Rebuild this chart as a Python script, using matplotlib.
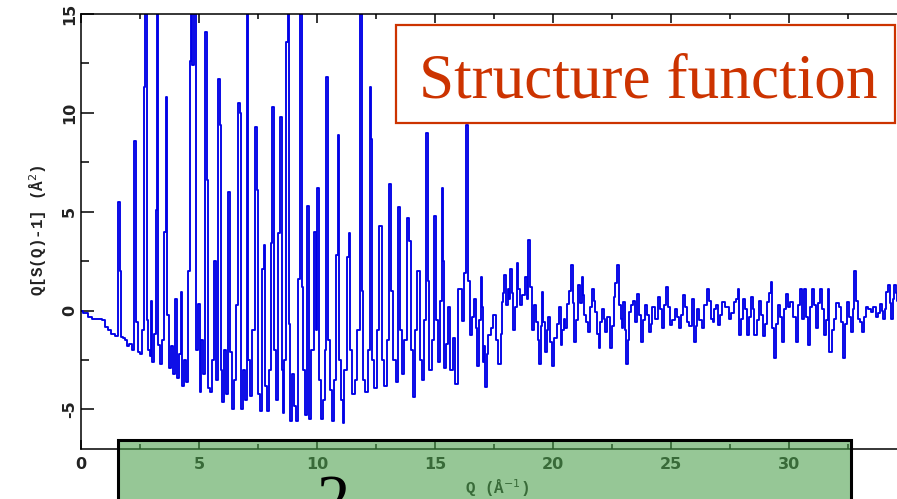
import numpy as np
import matplotlib
matplotlib.use("Agg")
from matplotlib import pyplot as plt
from matplotlib.patches import Rectangle
from matplotlib.ticker import MultipleLocator, FixedLocator

plt.rcParams['axes.unicode_minus'] = False

# Q (1/A) and Q[S(Q)-1], Bragg part
q_bragg = [0.0, 0.2, 0.4, 0.55, 0.8, 0.95, 1.05, 1.2, 1.35, 1.5, 1.62, 1.66, 1.72, 1.8, 1.9,
           2.0, 2.1, 2.2, 2.33, 2.37, 2.45, 2.55, 2.62, 2.7, 2.74, 2.78, 2.82, 2.88, 2.95,
           3.0, 3.05, 3.12, 3.2, 3.25, 3.3, 3.38, 3.45, 3.55, 3.63, 3.68, 3.75, 3.85, 3.95,
           4.03, 4.1, 4.18, 4.26, 4.32, 4.4, 4.5, 4.58, 4.63, 4.68, 4.75, 4.83, 4.9,
           5.0, 5.05, 5.12, 5.2, 5.3, 5.35, 5.42, 5.5, 5.58, 5.68, 5.75, 5.85, 5.9, 5.95,
           6.0, 6.1, 6.18, 6.27, 6.35, 6.45, 6.55, 6.62, 6.7, 6.75, 6.82, 6.9, 6.98,
           7.06, 7.12, 7.2, 7.3, 7.42, 7.47, 7.55, 7.62, 7.7, 7.77, 7.85, 7.92,
           8.0, 8.08, 8.14, 8.2, 8.3, 8.4, 8.47, 8.52, 8.57, 8.65, 8.72, 8.79, 8.84, 8.9,
           9.0, 9.08, 9.15, 9.22, 9.31, 9.38, 9.45, 9.55, 9.63, 9.7, 9.8, 9.9, 9.97,
           10.04, 10.1, 10.2, 10.28, 10.36, 10.44, 10.5, 10.6, 10.68, 10.76, 10.84, 10.9, 10.96,
           11.05, 11.12, 11.2, 11.3, 11.37, 11.45, 11.55, 11.65, 11.75, 11.86, 11.92,
           12.0, 12.1, 12.2, 12.25, 12.3, 12.38, 12.48, 12.58, 12.7, 12.78, 12.9,
           13.0, 13.1, 13.18, 13.28, 13.38, 13.47, 13.55, 13.65, 13.75, 13.86, 13.92,
           14.0, 14.1, 14.2, 14.3, 14.38, 14.48, 14.58, 14.65, 14.72, 14.8, 14.9,
           15.0, 15.08, 15.18, 15.25, 15.33, 15.37, 15.42, 15.5, 15.58, 15.7, 15.8, 15.9,
           16.0, 16.1, 16.18, 16.27, 16.34, 16.42]
s_bragg = [0.0, -0.1, -0.3, -0.4, -0.45, -0.5, -0.85, -1.0, -1.2, -1.3, 5.5, 2.0, -1.35, -1.4, -1.5,
           -1.8, -1.7, -2.0, 8.6, -0.6, -2.1, -2.2, -1.0, 11.3, 16, 16, -0.5, -2.0, -2.3,
           0.5, -2.6, -1.2, 5.1, 16, -1.75, -2.7, -1.5, 4.0, 10.8, -0.2, -2.9, -1.8, -3.2,
           0.6, -3.4, -2.2, 0.95, -3.8, -2.5, -3.6, 2.0, 12.6, 16, 12.4, 16, -2.0,
           0.35, -4.1, -1.5, -3.2, 14.1, 6.6, -3.9, -4.1, -2.5, 2.5, -3.5, 11.7, 9.4, -3.0,
           -4.6, -2.0, -4.2, 6.0, -2.1, -5.0, -3.5, 0.3, 10.5, 10.0, -5.0, -3.0, -4.5,
           16, -2.5, -4.3, -1.0, 9.3, 6.1, -4.2, -5.1, 2.1, 3.3, -3.8, -5.1,
           -3.0, 3.4, 10.3, -2.0, -4.5, 3.9, 9.8, -3.0, -5.2, -2.5, 13.6, 16, -0.7, -5.6,
           -3.2, -4.8, -5.6, 1.6, 16, 1.2, -3.0, -5.3, 5.3, -5.5, -2.0, 4.0, -1.0,
           6.2, -3.5, -5.5, -4.5, -2.0, 11.8, -1.5, -4.0, -5.6, -3.5, 2.8, 8.9, -2.5,
           -4.5, -5.7, -3.0, 2.7, 3.9, -2.0, -4.2, -3.5, -1.0, 16, 1.0,
           -3.5, -4.1, -2.0, 11.3, 8.7, -2.5, -3.9, -1.0, 4.3, -2.5, -3.8,
           -1.5, 6.4, 1.0, -2.5, -3.6, 5.25, -1.0, -3.2, -1.5, 4.7, 3.5,
           -2.0, -4.35, -1.0, 2.0, -2.5, -3.5, -0.5, 9.0, 1.5, -3.0, -1.5,
           4.8, -0.5, -2.6, 0.5, 6.2, 2.5, -2.9, -1.7, 0.2, -3.0, -1.4, -3.7,
           1.1, 1.1, -0.55, 1.9, 9.4, 1.5]

# high-Q part, noisy oscillation around zero
q_tail = [16.55, 16.62, 16.68, 16.76, 16.83, 16.9, 16.95, 17.0, 17.05, 17.1, 17.15, 17.22, 17.3,
          17.4, 17.5, 17.62, 17.75, 17.8, 17.85, 17.91, 17.97, 18.04, 18.1, 18.15, 18.2, 18.28,
          18.35, 18.42, 18.49, 18.57, 18.65, 18.75, 18.85, 18.92, 18.98, 19.07, 19.15, 19.22,
          19.3, 19.38, 19.45, 19.5, 19.55, 19.63, 19.72, 19.77, 19.82, 19.9, 20.0, 20.1, 20.2,
          20.28, 20.35, 20.42, 20.48, 20.55, 20.62, 20.7, 20.8, 20.86, 20.92, 21.0, 21.1, 21.18,
          21.25, 21.3, 21.35, 21.42, 21.5, 21.6, 21.7, 21.76, 21.82, 21.9, 21.96, 22.03, 22.1,
          22.18, 22.25, 22.35, 22.45, 22.52, 22.6, 22.66, 22.73, 22.82, 22.9, 22.95, 23.0, 23.06,
          23.12, 23.19, 23.26, 23.33, 23.4, 23.5, 23.6, 23.68, 23.75, 23.84, 23.92, 24.0, 24.1,
          24.17, 24.25, 24.38, 24.5, 24.58, 24.65, 24.75, 24.84, 24.92, 25.0, 25.1, 25.2, 25.28,
          25.37, 25.46, 25.55, 25.63, 25.72, 25.83, 25.94, 26.0, 26.07, 26.15, 26.25, 26.35,
          26.47, 26.58, 26.65, 26.72, 26.79, 26.86, 26.93, 27.0, 27.11, 27.22, 27.36, 27.5, 27.6,
          27.7, 27.78, 27.86, 27.92, 27.99, 28.06, 28.17, 28.28, 28.35, 28.42, 28.49, 28.56,
          28.68, 28.8, 28.85, 28.91, 29.02, 29.12, 29.18, 29.24, 29.32, 29.4, 29.5, 29.59, 29.66,
          29.73, 29.82, 29.9, 30.0, 30.11, 30.22, 30.33, 30.42, 30.5, 30.59, 30.68, 30.75, 30.82,
          30.91, 31.0, 31.08, 31.17, 31.25, 31.34, 31.44, 31.53, 31.6, 31.66, 31.74, 31.85, 31.95,
          32.05, 32.16, 32.24, 32.33, 32.42, 32.51, 32.58, 32.66, 32.73, 32.8, 32.87, 32.94,
          33.03, 33.12, 33.2, 33.29, 33.4, 33.5, 33.6, 33.72, 33.8, 33.88, 33.96, 34.03, 34.09,
          34.14, 34.25, 34.3, 34.35, 34.42, 34.49, 34.55, 34.6]
s_tail = [-1.25, -0.3, 0.6, -0.9, -2.8, -0.5, 1.7, 0.2, -2.6, -1.8, -3.85, -2.2, -1.25,
          -0.9, -0.24, -1.5, -2.7, -1.2, 0.45, 0.9, 1.8, 0.3, 1.1, 0.6, 2.1, 0.9,
          -1.0, 0.2, 2.4, 1.1, 0.27, 0.8, 1.7, 0.6, 3.55, 1.2, -1.0, 0.3,
          -0.56, -1.5, -2.7, -0.8, 0.95, -0.6, -2.1, -1.0, -0.3, -1.6, -2.8, -1.4, -0.7,
          0.2, -1.75, -1.0, -0.4, -0.9, 0.35, 1.0, 2.3, 0.4, -1.6, -0.5, 1.3, 0.4,
          1.7, 0.8, -0.24, -0.6, -1.07, 0.2, 1.1, 0.5, -0.05, -1.2, -1.9, -0.6, 0.1,
          -0.4, -1.07, -0.3, -1.9, -0.8, 0.7, 1.4, 2.3, 0.3, -0.4, -0.9, 0.45, -1.0,
          -2.7, -1.5, -0.05, 0.3, 0.5, -0.6, 0.86, -0.2, -1.6, -0.5, 0.27, -0.2, -1.07,
          -0.7, 0.2, -0.4, 0.7, 0.1, -0.9, 0.3, 1.2, 0.2, -0.74, -0.5, 0.1, -0.3,
          -0.9, -0.2, 0.77, 0.2, -0.56, -0.8, 0.6, -1.6, -0.8, 0.1, -0.5, -0.9,
          0.3, 1.1, 0.5, -0.4, -0.6, 0.1, 0.3, -0.74, -0.2, 0.45, 0.2, -0.4, -0.1,
          0.45, 0.6, 1.1, -1.25, -0.4, 0.6, 0.1, -1.25, -0.3, 0.7, 0.1, -1.25,
          -0.5, 0.5, -0.2, -1.3, -0.7, 0.45, 0.9, 1.45, -0.9, -2.4, -0.7, 0.27, -0.3,
          -1.6, 0.1, 0.86, 0.2, 0.45, -0.3, -1.6, 0.3, 1.1, -0.4, 1.1, -0.3, -1.75,
          0.2, 1.1, 0.3, -0.9, 0.4, 1.1, 0.1, -1.25, -0.5, 1.1, -2.1, -1.0, -0.4,
          0.4, 0.2, -0.6, -2.4, -0.7, 0.45, -0.3, -1.07, 0.1, 2.0, 0.5, -0.4,
          -0.6, -1.07, -0.3, 0.2, 0.1, -0.05, 0.2, -0.3, -0.1, 0.35, 0.0, -0.4, 0.1,
          0.95, 1.3, 0.4, -0.4, 0.6, 1.3, 0.9, 0.5]

q = np.array(q_bragg + q_tail)
s = np.array(s_bragg + s_tail)
x_major = [0, 5, 10, 15, 20, 25, 30]

W, H = 897, 499
fig = plt.figure(figsize=(W / 100, H / 100), dpi=100)
ax = fig.add_axes([81 / W, 50 / H, 838 / W, 435 / H])

ax.plot(q, s, color='#0000e6', lw=1.35, drawstyle='steps-mid')
ax.set_xlim(0, 35.5)
ax.set_ylim(-7, 15)

ax.spines['right'].set_visible(False)
for sp in ax.spines.values():
    sp.set_linewidth(1.1)
ax.xaxis.set_major_locator(FixedLocator(x_major))
ax.xaxis.set_minor_locator(MultipleLocator(2.5))
ax.yaxis.set_major_locator(MultipleLocator(5))
ax.yaxis.set_minor_locator(MultipleLocator(2.5))
ax.tick_params(axis='x', which='major', direction='in', top=True, length=6.5, width=1.1, pad=6)
ax.tick_params(axis='x', which='minor', direction='in', top=True, length=3.6, width=1.1)
ax.tick_params(axis='y', which='major', direction='in', length=9.4, width=1.1, pad=3)
ax.tick_params(axis='y', which='minor', direction='in', length=5.8, width=1.1)
for lab in ax.get_xticklabels():
    lab.set_fontsize(11.5)
    lab.set_fontweight('bold')
    lab.set_color('#222222')
for lab in ax.get_yticklabels():
    lab.set_fontsize(11.5)
    lab.set_fontweight('bold')
    lab.set_color('#222222')
    lab.set_rotation(90)
    lab.set_va('center')

fig.text(38 / W, 1 - 230 / H, 'Q[S(Q)-1] (Å$^2$)', rotation=90, ha='center', va='center',
         fontsize=11.5, fontweight='bold', family='Liberation Mono', color='#222222')
fig.text(497 / W, 1 - 488 / H, 'Q (Å$^{-1}$)', ha='center', va='center',
         fontsize=11.5, fontweight='bold', family='Liberation Mono', color='#222222')

# title box
fig.add_artist(Rectangle((396 / W, 1 - 123 / H), 499 / W, 98 / H, transform=fig.transFigure,
                         facecolor='white', edgecolor='#cc3300', lw=1.6, zorder=5))
fig.text(419 / W, 1 - 97 / H, 'Structure function', family='Liberation Serif',
         fontsize=45.5, color='#cc3300', ha='left', va='baseline', zorder=6)

# green overlay box at the bottom
fig.add_artist(Rectangle((118 / W, -0.05), 733 / W, 0.05 + 59 / H, transform=fig.transFigure,
                         facecolor='#4aa04a', alpha=0.58, edgecolor='none', zorder=7))
fig.add_artist(Rectangle((118 / W, -0.05), 733 / W, 0.05 + 59 / H, transform=fig.transFigure,
                         facecolor='none', edgecolor='black', lw=2.2, zorder=8))
fig.text(333 / W, 1 - 474 / H, '2', family='Liberation Serif', fontsize=48,
         color='black', ha='center', va='top', zorder=9)

fig.savefig('out.png', dpi=100)
